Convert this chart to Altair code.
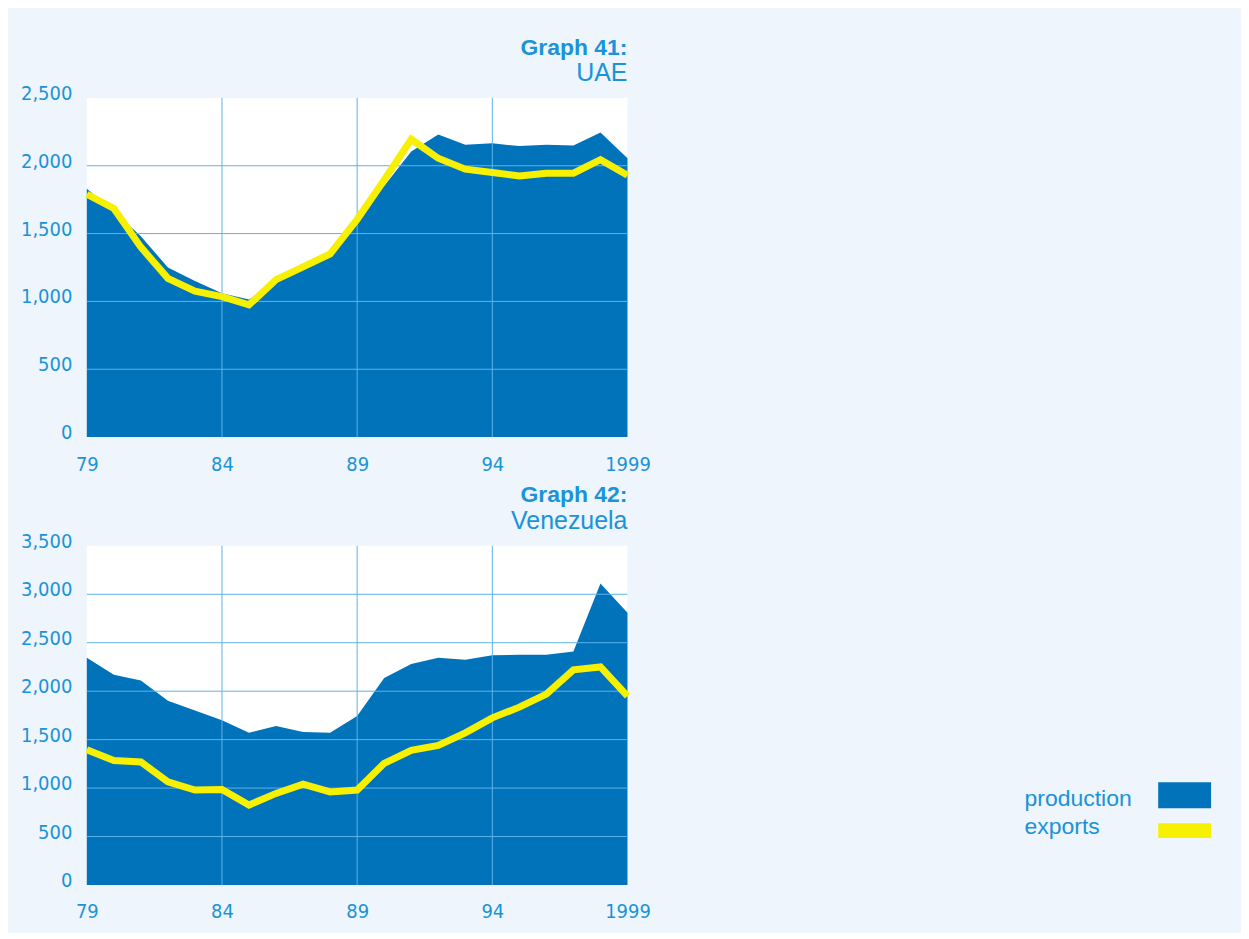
import altair as alt
import pandas as pd

# ---- data ----
years = list(range(1979, 2000))
uae_production = [1830, 1665, 1480, 1250, 1150, 1060, 1015, 1135, 1280, 1330, 1600,
                  1850, 2105, 2230, 2155, 2165, 2145, 2155, 2150, 2245, 2055]
uae_exports = [1790, 1685, 1400, 1170, 1075, 1035, 975, 1160, 1255, 1350, 1605,
               1895, 2195, 2055, 1975, 1950, 1925, 1945, 1945, 2045, 1930]
ven_production = [2345, 2170, 2110, 1900, 1800, 1700, 1570, 1640, 1580, 1570, 1745,
                  2135, 2280, 2345, 2325, 2370, 2375, 2375, 2410, 3110, 2810]
ven_exports = [1395, 1285, 1270, 1065, 980, 985, 825, 945, 1040, 960, 980,
               1255, 1390, 1440, 1570, 1725, 1835, 1970, 2220, 2250, 1950]

x_tick_values = [1979, 1984, 1989, 1994, 1999]
x_tick_labels = ["79", "84", "89", "94", "1999"]
x_grid_years = [1984, 1989, 1994]

uae_y_ticks = [0, 500, 1000, 1500, 2000, 2500]
uae_y_grid = [500, 1000, 1500, 2000]
ven_y_ticks = [0, 500, 1000, 1500, 2000, 2500, 3000, 3500]
ven_y_grid = [500, 1000, 1500, 2000, 2500, 3000]

legend_labels = ["production", "exports"]

# ---- styles ----
BLUE = "#0073BB"
YELLOW = "#F7F000"
GRID = "#5DB3E8"
TEXT = "#1A93D8"
BG = "#EEF5FC"
NARROW = "Liberation Sans Narrow, DejaVu Sans Condensed, Liberation Sans, sans-serif"
SANS = "Liberation Sans, Arial, sans-serif"

label_expr = " : ".join(
    f"datum.value == {v} ? '{l}'" for v, l in zip(x_tick_values, x_tick_labels)
) + " : ''"


def panel(prod, exp, ymax, yticks, ygrid, title, subtitle, legend=False):
    df = pd.DataFrame({"year": years, "production": prod, "exports": exp})
    xscale = alt.Scale(domain=[1979, 1999], nice=False, zero=False)
    yscale = alt.Scale(domain=[0, ymax], nice=False)
    xaxis = alt.Axis(values=x_tick_values, labelExpr=label_expr, grid=False,
                     domain=False, ticks=False, title=None, labelFlush=False,
                     labelPadding=17, labelFontSize=20, labelFont=NARROW,
                     labelColor=TEXT, labelOverlap=False)
    yaxis = alt.Axis(values=yticks, format=",d", grid=False, domain=False,
                     ticks=False, title=None, labelPadding=15, labelFontSize=20,
                     labelFont=NARROW, labelColor=TEXT, labelOffset=-4.5,
                     labelOverlap=False)

    area = alt.Chart(df).mark_area(color=BLUE, opacity=1).encode(
        x=alt.X("year:Q", scale=xscale, axis=xaxis),
        y=alt.Y("production:Q", scale=yscale, axis=yaxis),
    )
    vgrid = alt.Chart(pd.DataFrame({"year": x_grid_years})).mark_rule(
        color=GRID, strokeWidth=1
    ).encode(x=alt.X("year:Q", scale=xscale))
    hgrid = alt.Chart(pd.DataFrame({"v": ygrid})).mark_rule(
        color=GRID, strokeWidth=1
    ).encode(y=alt.Y("v:Q", scale=yscale))
    line = alt.Chart(df).mark_line(color=YELLOW, strokeWidth=7).encode(
        x=alt.X("year:Q", scale=xscale),
        y=alt.Y("exports:Q", scale=yscale),
    )
    layers = [area, vgrid, hgrid, line]

    if legend:
        swatches = [
            (BLUE, 237, 263),
            (YELLOW, 278, 293),
        ]
        baselines = [261, 289]
        for lab, (col, y0, y1), bl in zip(legend_labels, swatches, baselines):
            ldf = pd.DataFrame({"label": [lab]})
            layers.append(
                alt.Chart(ldf).mark_text(
                    align="left", baseline="alphabetic", fontSize=23,
                    font=SANS, color=TEXT
                ).encode(text="label:N", x=alt.value(940), y=alt.value(bl))
            )
            layers.append(
                alt.Chart(ldf).mark_rect(color=col).encode(
                    x=alt.value(1074), x2=alt.value(1127),
                    y=alt.value(y0), y2=alt.value(y1)
                )
            )

    return alt.layer(*layers).properties(
        width=542, height=340,
        title=alt.TitleParams(
            text=title, subtitle=subtitle, anchor="end", frame="group",
            font=SANS, fontSize=23, fontWeight="bold", color=TEXT,
            subtitleFont=SANS, subtitleFontSize=25, subtitleColor=TEXT,
            subtitlePadding=2, offset=-3,
        ),
    )


p1 = panel(uae_production, uae_exports, 2500, uae_y_ticks, uae_y_grid,
           "Graph 41:", "UAE")
p2 = panel(ven_production, ven_exports, 3500, ven_y_ticks, ven_y_grid,
           "Graph 42:", "Venezuela", legend=True)

chart = alt.vconcat(p1, p2, spacing=10).properties(
    background=BG,
    padding={"left": 12, "top": 27, "right": 30, "bottom": 10},
).configure_view(fill="white", stroke=None)

chart.save("out.html", embed_options={"renderer": "svg", "actions": False})
